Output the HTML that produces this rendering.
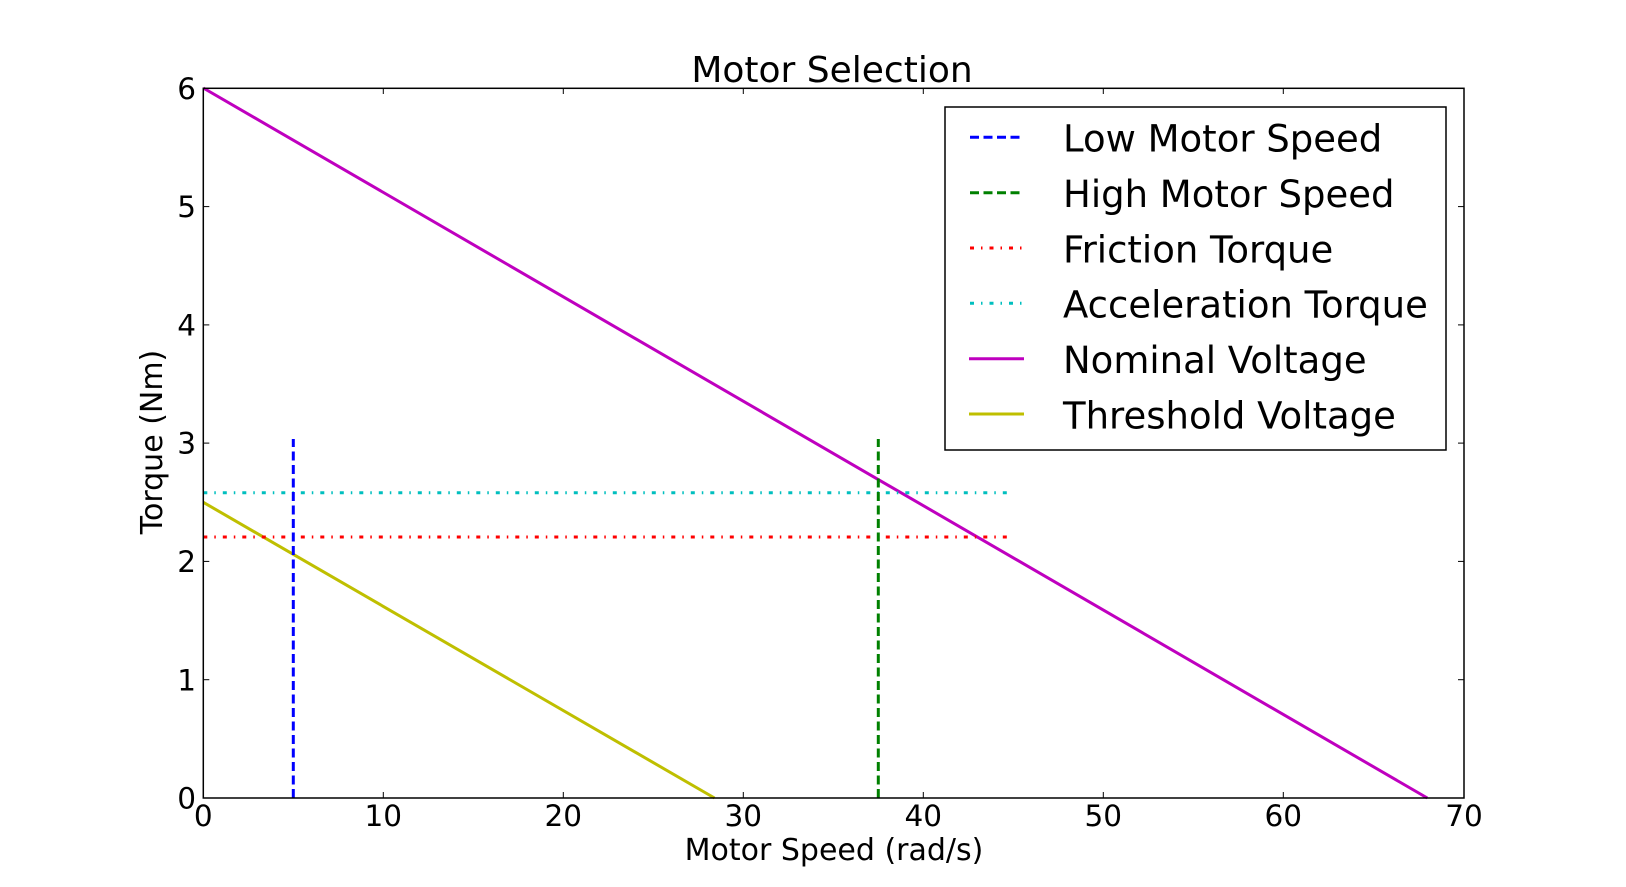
<!DOCTYPE html>
<html><head><meta charset="utf-8"><style>
html,body{margin:0;padding:0;background:#fff;}
svg{display:block;font-family:"DejaVu Sans","Liberation Sans",sans-serif;}
</style></head><body>
<svg width="1626" height="887" viewBox="0 0 1626 887" xmlns="http://www.w3.org/2000/svg">
<rect width="1626" height="887" fill="#fff"/>
<!-- series -->
<g fill="none" stroke-width="3">
<line x1="203.3" y1="88" x2="1427.3" y2="798" stroke="#bf00bf"/>
<line x1="203.3" y1="502.3" x2="714.5" y2="798" stroke="#bfbf00"/>
<line x1="203.3" y1="492.7" x2="1013.3" y2="492.7" stroke="#00bfbf" stroke-dasharray="4 7 1.5 7"/>
<line x1="203.3" y1="537" x2="1013.3" y2="537" stroke="#ff0000" stroke-dasharray="4 7 1.5 7"/>
<line x1="293.3" y1="798" x2="293.3" y2="439" stroke="#0000ff" stroke-dasharray="9 4.5"/>
<line x1="878.3" y1="798" x2="878.3" y2="439" stroke="#008000" stroke-dasharray="9 4.5"/>
</g>
<!-- axes -->
<rect x="203.3" y="88.3" width="1260.7" height="709.7" fill="none" stroke="#000" stroke-width="1.5"/>
<g stroke="#000" stroke-width="1">
<line x1="383.3" y1="798" x2="383.3" y2="792"/><line x1="383.3" y1="88.3" x2="383.3" y2="94"/>
<line x1="563.3" y1="798" x2="563.3" y2="792"/><line x1="563.3" y1="88.3" x2="563.3" y2="94"/>
<line x1="743.3" y1="798" x2="743.3" y2="792"/><line x1="743.3" y1="88.3" x2="743.3" y2="94"/>
<line x1="923.3" y1="798" x2="923.3" y2="792"/><line x1="923.3" y1="88.3" x2="923.3" y2="94"/>
<line x1="1103.3" y1="798" x2="1103.3" y2="792"/><line x1="1103.3" y1="88.3" x2="1103.3" y2="94"/>
<line x1="1283.3" y1="798" x2="1283.3" y2="792"/><line x1="1283.3" y1="88.3" x2="1283.3" y2="94"/>
<line x1="203.3" y1="679.7" x2="209.3" y2="679.7"/><line x1="1464" y1="679.7" x2="1458" y2="679.7"/>
<line x1="203.3" y1="561.4" x2="209.3" y2="561.4"/><line x1="1464" y1="561.4" x2="1458" y2="561.4"/>
<line x1="203.3" y1="443.1" x2="209.3" y2="443.1"/><line x1="1464" y1="443.1" x2="1458" y2="443.1"/>
<line x1="203.3" y1="324.9" x2="209.3" y2="324.9"/><line x1="1464" y1="324.9" x2="1458" y2="324.9"/>
<line x1="203.3" y1="206.6" x2="209.3" y2="206.6"/><line x1="1464" y1="206.6" x2="1458" y2="206.6"/>
</g>
<g font-size="29.5" fill="#000" text-anchor="middle">
<text x="203.3" y="826">0</text><text x="383.3" y="826">10</text><text x="563.3" y="826">20</text>
<text x="743.3" y="826">30</text><text x="923.3" y="826">40</text><text x="1103.3" y="826">50</text>
<text x="1283.3" y="826">60</text><text x="1464" y="826">70</text>
</g>
<g font-size="29.5" fill="#000" text-anchor="end">
<text x="196" y="808.5">0</text><text x="196" y="690.5">1</text><text x="196" y="572">2</text>
<text x="196" y="453.5">3</text><text x="196" y="335.5">4</text><text x="196" y="217">5</text><text x="196" y="98.8">6</text>
</g>
<text x="834" y="860" font-size="30" text-anchor="middle">Motor Speed (rad/s)</text>
<text transform="translate(162,442) rotate(-90)" font-size="30" text-anchor="middle">Torque (Nm)</text>
<text x="832" y="82" font-size="36" text-anchor="middle">Motor Selection</text>
<!-- legend -->
<rect x="945" y="107" width="501" height="343" fill="#fff" stroke="#000" stroke-width="1.5"/>
<g stroke-width="3">
<line x1="970" y1="137.3" x2="1023" y2="137.3" stroke="#0000ff" stroke-dasharray="9 4.5"/>
<line x1="970" y1="192.7" x2="1023" y2="192.7" stroke="#008000" stroke-dasharray="9 4.5"/>
<line x1="970" y1="248" x2="1023" y2="248" stroke="#ff0000" stroke-dasharray="4 7 1.5 7"/>
<line x1="970" y1="303.3" x2="1023" y2="303.3" stroke="#00bfbf" stroke-dasharray="4 7 1.5 7"/>
<line x1="969" y1="358.7" x2="1024" y2="358.7" stroke="#bf00bf"/>
<line x1="969" y1="414" x2="1024" y2="414" stroke="#bfbf00"/>
</g>
<g font-size="37" fill="#000">
<text x="1063" y="151.7">Low Motor Speed</text>
<text x="1063" y="207">High Motor Speed</text>
<text x="1063" y="262.3">Friction Torque</text>
<text x="1063" y="317.7">Acceleration Torque</text>
<text x="1063" y="373">Nominal Voltage</text>
<text x="1063" y="428.3">Threshold Voltage</text>
</g>
</svg>
</body></html>
